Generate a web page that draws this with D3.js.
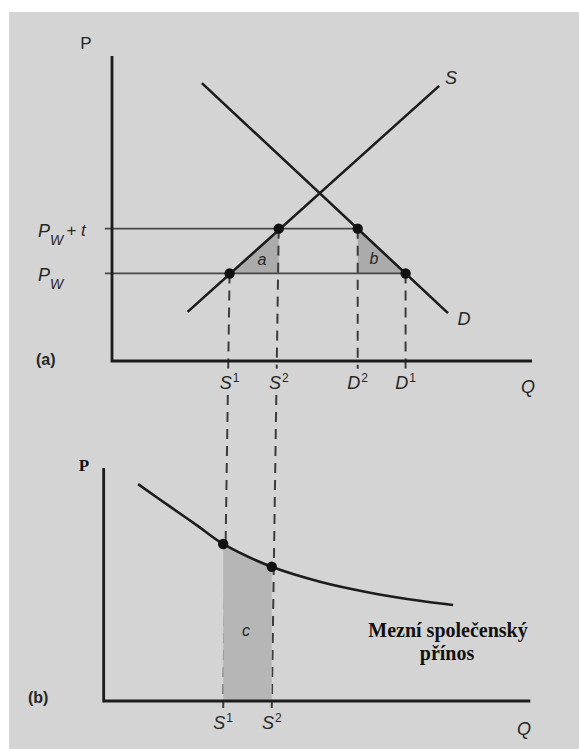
<!DOCTYPE html>
<html>
<head>
<meta charset="utf-8">
<script src="https://cdn.jsdelivr.net/npm/d3@7"></script>
<style>
body { margin: 0; background: #fff; }
text { font-family: "Liberation Sans", Arial, sans-serif; fill: #262626; }
.it { font-style: italic; }
.serif { font-family: "Liberation Serif", "Times New Roman", serif; font-weight: bold; fill: #111; }
</style>
</head>
<body>
<svg id="chart" width="579" height="749"></svg>
<script>
// panel (a): supply / demand with a tariff
const supplyLine = [[18.0, 16.1], [77.9, 90.2]];
const demandLine = [[21.4, 91.1], [80.0, 15.7]];
const priceLevels = [43.4, 28.7];              // Pw + t, Pw
const priceLabels = [["P", "W", "+ t"], ["P", "W", ""]];
const qTicks = [28.0, 39.7, 58.5, 69.9];      // S1, S2, D2, D1
const qTickLetters = ["S", "S", "D", "D"];
const qTickSups = ["1", "2", "2", "1"];
const qTickPrices = [28.7, 43.4, 43.4, 28.7];

// panel (b): marginal social benefit
const benefitCurve = [[7.5, 93.1], [15.2, 83.4], [21.6, 75.5], [28.0, 67.4], [39.7, 57.6],
                      [51.3, 51.2], [63.4, 46.5], [75.4, 43.0], [83.4, 41.2]];
const benefitTicks = [28.0, 39.7];
const benefitTickSups = ["1", "2"];

const svg = d3.select("#chart");

// scanned page background
svg.append("rect").attr("x", 9).attr("y", 12).attr("width", 570).attr("height", 737)
    .attr("fill", "#d4d4d4");

const xA = d3.scaleLinear().domain([0, 100]).range([112, 532]);
const yA = d3.scaleLinear().domain([0, 100]).range([361, 56]);
const xB = d3.scaleLinear().domain([0, 100]).range([107, 522]);
const yB = d3.scaleLinear().domain([0, 100]).range([701, 468]);

const line = (xs, ys) => d3.line().x(d => xs(d[0])).y(d => ys(d[1]));

// ---------- panel (a) ----------
const [pt, pw] = priceLevels;
const [qS1, qS2, qD2, qD1] = qTicks;

const shade = svg.append("g").attr("fill", "#ababab");
shade.append("path").attr("d", line(xA, yA)([[qS1, pw], [qS2, pt], [qS2, pw]]) + "Z");
shade.append("path").attr("d", line(xA, yA)([[qD2, pt], [qD2, pw], [qD1, pw]]) + "Z");

// price lines
svg.selectAll("line.price")
    .data(priceLevels)
    .enter()
    .append("line")
    .attr("class", "price")
    .attr("x1", xA(-1.7))
    .attr("x2", (d, i) => xA(i === 0 ? qD2 : qD1))
    .attr("y1", d => yA(d))
    .attr("y2", d => yA(d))
    .attr("stroke", "#474747")
    .attr("stroke-width", 1.7);

// dashed drop lines
const dash = svg.append("g")
    .attr("stroke", "#3c3c3c")
    .attr("stroke-width", 2)
    .attr("stroke-dasharray", "10,7")
    .attr("fill", "none");

qTicks.forEach((q, i) => {
    const y0 = yA(qTickPrices[i]);
    if (i < 2) {
        // S lines run on down into panel (b); the scan is slightly skewed
        const x0 = xA(q), x1 = xB(q), y1 = yB(-3);
        const xAt = d3.scaleLinear().domain([y0, y1]).range([x0, x1]);
        dash.append("line").attr("x1", x0).attr("y1", y0)
            .attr("x2", xAt(yA(-2.5))).attr("y2", yA(-2.5));
        dash.append("line").attr("x1", xAt(395)).attr("y1", 395)
            .attr("x2", x1).attr("y2", y1);
    } else {
        dash.append("line").attr("x1", xA(q)).attr("y1", y0)
            .attr("x2", xA(q)).attr("y2", yA(-2.5));
    }
});

// axes (a)
svg.append("path")
    .attr("d", line(xA, yA)([[0, 100], [0, 0], [100, 0]]))
    .attr("fill", "none")
    .attr("stroke", "#1c1c1c")
    .attr("stroke-width", 2.8);

// supply and demand
[supplyLine, demandLine].forEach(l => {
    svg.append("path")
        .attr("d", line(xA, yA)(l))
        .attr("stroke", "#1c1c1c")
        .attr("stroke-width", 2.6)
        .attr("fill", "none");
});

svg.selectAll("circle.a")
    .data(qTicks)
    .enter()
    .append("circle")
    .attr("class", "a")
    .attr("cx", d => xA(d))
    .attr("cy", (d, i) => yA(qTickPrices[i]))
    .attr("r", 5.2)
    .attr("fill", "#111");

// labels (a)
svg.append("text").attr("x", 86).attr("y", 49).attr("text-anchor", "middle")
    .attr("font-size", 17).text("P");
svg.append("text").attr("class", "it").attr("x", 451).attr("y", 84)
    .attr("text-anchor", "middle").attr("font-size", 18).text("S");
svg.append("text").attr("class", "it").attr("x", 464).attr("y", 325)
    .attr("text-anchor", "middle").attr("font-size", 18).text("D");
svg.append("text").attr("class", "it").attr("x", 528).attr("y", 393)
    .attr("text-anchor", "middle").attr("font-size", 18).text("Q");
svg.append("text").attr("x", 36).attr("y", 365).attr("font-size", 16)
    .attr("font-weight", "bold").text("(a)");

svg.append("text").attr("class", "it").attr("x", 262).attr("y", 265)
    .attr("text-anchor", "middle").attr("font-size", 16).attr("fill", "#444").text("a");
svg.append("text").attr("class", "it").attr("x", 374).attr("y", 264)
    .attr("text-anchor", "middle").attr("font-size", 16).attr("fill", "#444").text("b");

priceLabels.forEach((lab, i) => {
    const t = svg.append("text").attr("class", "it")
        .attr("x", 38).attr("y", yA(priceLevels[i]) + 8).attr("font-size", 18);
    t.append("tspan").text(lab[0]);
    t.append("tspan").attr("font-size", 14).attr("dy", 8).text(lab[1]);
    if (lab[2]) t.append("tspan").attr("dy", -9).attr("dx", 3).attr("font-size", 17).text(lab[2]);
});

qTicks.forEach((q, i) => {
    const t = svg.append("text").attr("class", "it")
        .attr("x", xA(q)).attr("y", 389).attr("text-anchor", "middle").attr("font-size", 18);
    t.append("tspan").text(qTickLetters[i]);
    t.append("tspan").attr("font-size", 12).attr("font-style", "normal")
        .attr("dy", -7).attr("dx", 1).text(qTickSups[i]);
});

// ---------- panel (b) ----------
const between = benefitCurve.filter(d => d[0] >= benefitTicks[0] && d[0] <= benefitTicks[1]);
svg.append("path")
    .attr("d", d3.area().x(d => xB(d[0])).y0(yB(0)).y1(d => yB(d[1]))(between))
    .attr("fill", "#b6b6b6");

svg.append("path")
    .attr("d", line(xB, yB)([[-0.8, 100], [-0.8, 0], [102, 0]]))
    .attr("fill", "none")
    .attr("stroke", "#1c1c1c")
    .attr("stroke-width", 2.8);

svg.append("path")
    .attr("d", line(xB, yB).curve(d3.curveCatmullRom)(benefitCurve))
    .attr("fill", "none")
    .attr("stroke", "#1c1c1c")
    .attr("stroke-width", 2.6);

svg.selectAll("circle.b")
    .data(benefitCurve.filter(d => benefitTicks.includes(d[0])))
    .enter()
    .append("circle")
    .attr("class", "b")
    .attr("cx", d => xB(d[0]))
    .attr("cy", d => yB(d[1]))
    .attr("r", 5.2)
    .attr("fill", "#111");

svg.append("text").attr("class", "serif").attr("x", 84).attr("y", 471)
    .attr("text-anchor", "middle").attr("font-size", 17).text("P");
svg.append("text").attr("x", 28).attr("y", 703).attr("font-size", 16)
    .attr("font-weight", "bold").text("(b)");
svg.append("text").attr("class", "it").attr("x", 524).attr("y", 735)
    .attr("text-anchor", "middle").attr("font-size", 18).text("Q");
svg.append("text").attr("class", "it").attr("x", xB(33.5)).attr("y", 636)
    .attr("text-anchor", "middle").attr("font-size", 16).attr("fill", "#444").text("c");

benefitTicks.forEach((q, i) => {
    const t = svg.append("text").attr("class", "it")
        .attr("x", xB(q)).attr("y", 729).attr("text-anchor", "middle").attr("font-size", 18);
    t.append("tspan").text("S");
    t.append("tspan").attr("font-size", 12).attr("font-style", "normal")
        .attr("dy", -7).attr("dx", 1).text(benefitTickSups[i]);
});

const msb = svg.append("text").attr("class", "serif").attr("text-anchor", "middle")
    .attr("font-size", 20);
msb.append("tspan").attr("x", 448).attr("y", 637).text("Mezní společenský");
msb.append("tspan").attr("x", 447).attr("y", 660).text("přínos");
</script>
</body>
</html>
